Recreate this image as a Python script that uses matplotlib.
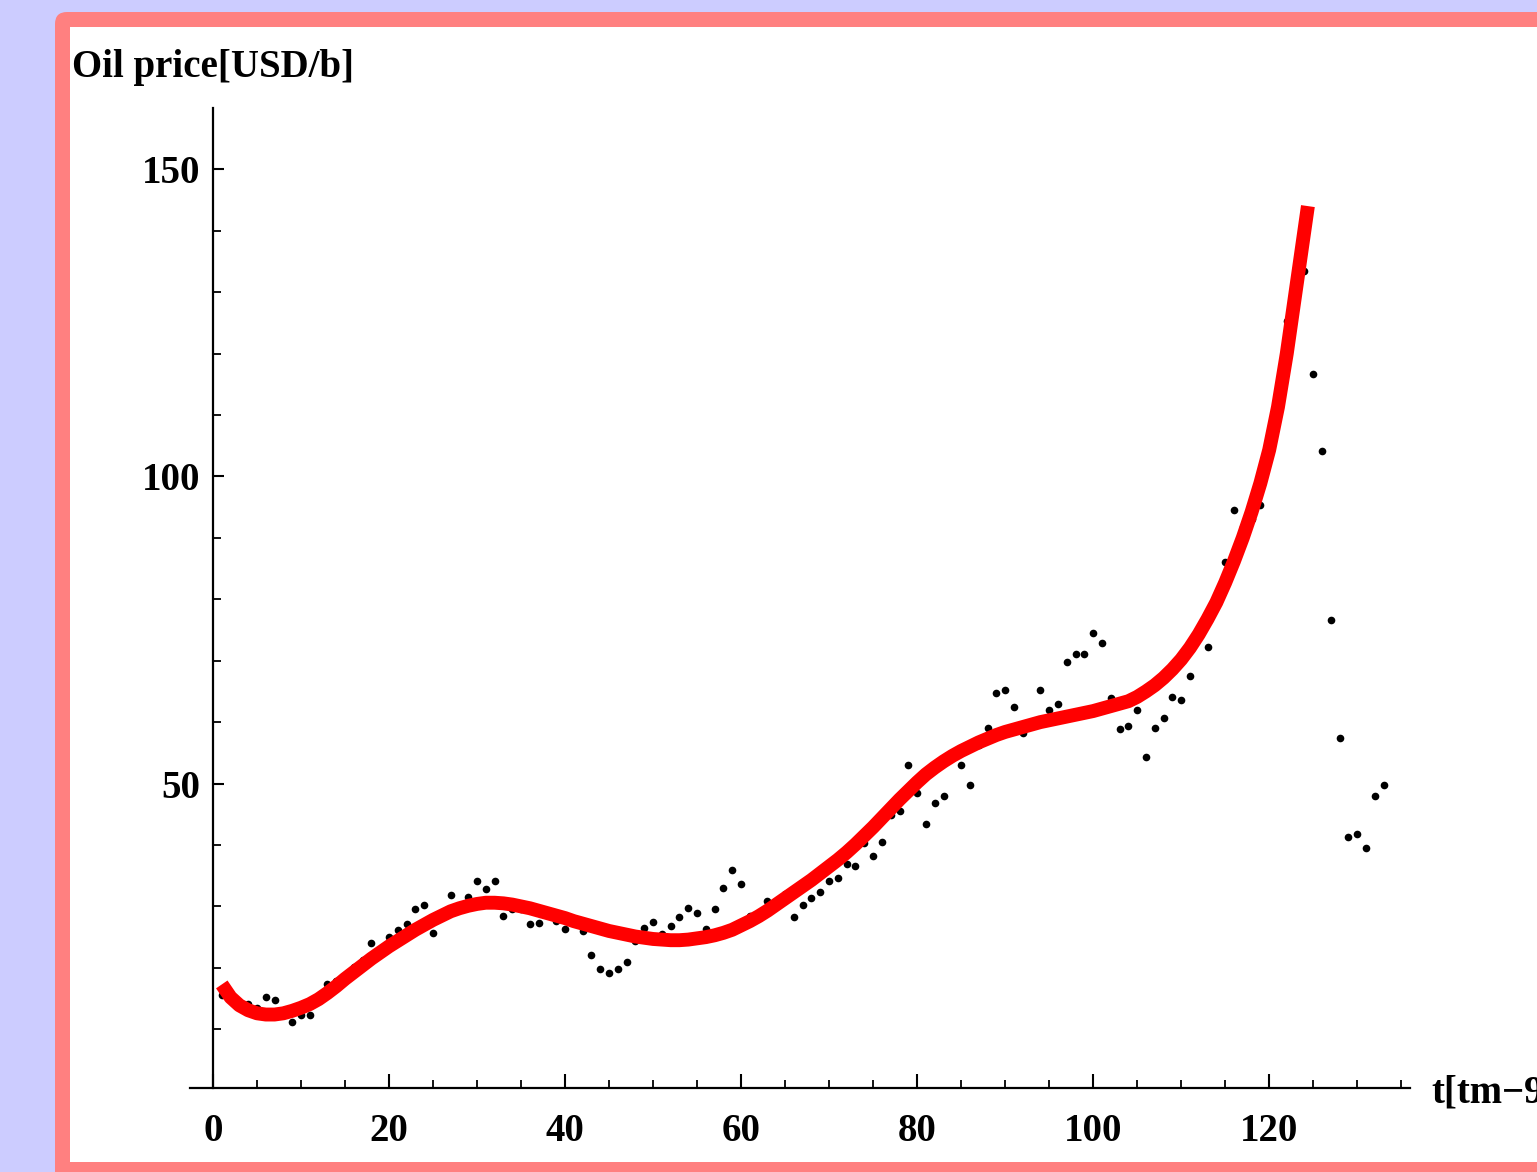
import numpy as np
import matplotlib
matplotlib.use('Agg')
import matplotlib.pyplot as plt
from matplotlib.patches import FancyBboxPatch, Rectangle
from matplotlib.ticker import MultipleLocator

# monthly oil price, t = 1 .. 133
months = np.arange(1, 134)
price = [15.5, 14.9, 13.7, 14.1, 13.4, 15.3, 14.7, 12.9, 11.2,
         12.4, 12.3, 14.7, 17.3, 17.8, 17.9, 20.1, 21.3, 24.1, 22.6, 25.0, 26.1,
         27.2, 29.5, 30.2, 25.7, 28.8, 31.9, 29.7, 31.6, 34.1, 32.9, 34.2, 28.4,
         29.6, 29.6, 27.2, 27.3, 28.6, 27.6, 26.4, 27.4, 26.0, 22.1, 19.8, 19.1,
         19.8, 20.9, 24.4, 26.5, 27.4, 25.5, 26.8, 28.3, 29.7, 29.0, 26.3, 29.6,
         33.0, 35.9, 33.6, 28.5, 28.1, 30.8, 30.8, 32.0, 28.3, 30.2, 31.3, 32.4,
         34.2, 34.7, 36.9, 36.6, 40.3, 38.2, 40.5, 44.9, 45.6, 53.1, 48.5, 43.4,
         46.8, 48.0, 54.3, 53.1, 49.8, 56.3, 59.0, 64.8, 65.2, 62.4, 58.2, 59.4,
         65.2, 62.0, 63.0, 69.8, 71.1, 71.1, 74.5, 72.8, 64.0, 58.9, 59.4, 61.9,
         54.4, 59.0, 60.6, 64.1, 63.6, 67.5, 74.1, 72.3, 79.9, 86.0, 94.6, 91.7,
         93.0, 95.4, 105.5, 112.6, 125.3, 133.9, 133.4, 116.7, 104.1, 76.7, 57.4, 41.3,
         41.8, 39.5, 48.0, 49.7]

# fitted trend at each month (t = 1 .. 124) and its end
curve_t = list(range(1, 125)) + [124.4]
curve_v = [17.3, 15.2, 13.9, 13.1, 12.6, 12.4, 12.4, 12.6, 13.0, 13.5,
           14.1, 14.9, 15.9, 17.0, 18.2, 19.3, 20.4, 21.5, 22.5, 23.5,
           24.4, 25.3, 26.2, 27.0, 27.8, 28.5, 29.2, 29.7, 30.1, 30.4,
           30.6, 30.6, 30.5, 30.3, 30.0, 29.7, 29.3, 28.9, 28.5, 28.1,
           27.6, 27.2, 26.8, 26.4, 26.0, 25.7, 25.4, 25.1, 24.9, 24.7,
           24.6, 24.5, 24.5, 24.6, 24.8, 25.0, 25.3, 25.7, 26.2, 26.9,
           27.6, 28.4, 29.3, 30.3, 31.3, 32.3, 33.3, 34.3, 35.4, 36.5,
           37.6, 38.8, 40.1, 41.5, 42.9, 44.4, 45.9, 47.4, 48.8, 50.2,
           51.5, 52.6, 53.6, 54.5, 55.3, 56.0, 56.7, 57.3, 57.9, 58.4,
           58.8, 59.2, 59.6, 60.0, 60.3, 60.6, 60.9, 61.2, 61.5, 61.8,
           62.2, 62.6, 63.0, 63.4, 64.1, 65.0, 66.0, 67.2, 68.6, 70.2,
           72.1, 74.3, 76.8, 79.5, 82.7, 86.2, 90.0, 94.2, 98.9, 104.3,
           111.3, 120.0, 130.0, 140.0, 144.0]

plt.rcParams['font.family'] = ['Liberation Serif', 'DejaVu Serif']
plt.rcParams['font.weight'] = 'bold'

W, H = 1537, 1172
fig = plt.figure(figsize=(W / 100, H / 100), dpi=100, facecolor='#ccccff')

# salmon frame with white page inside (behind the axes)
frame = FancyBboxPatch((0.55, -1.0), 20, 12.6,
                       boxstyle='round,pad=0,rounding_size=0.12',
                       transform=fig.dpi_scale_trans, fc='#ff8080', ec='none',
                       zorder=-2)
fig.add_artist(frame)
page = Rectangle((0.70, 0.10), 20, 11.35, transform=fig.dpi_scale_trans,
                 fc='white', ec='none', zorder=-1)
fig.add_artist(page)

ax = fig.add_axes([190 / W, 84 / H, 1220 / W, 980 / H])
ax.patch.set_visible(False)

ax.plot(months, price, 'o', color='black', ms=5.5, mew=0, zorder=2)
ax.plot(curve_t, curve_v, color='#ff0000', lw=10, solid_capstyle='butt',
        solid_joinstyle='round', zorder=3)

ax.set_xlim(-2.61, 136.0)
ax.set_ylim(0.44, 159.97)

ax.spines['top'].set_visible(False)
ax.spines['right'].set_visible(False)
ax.spines['left'].set_position(('data', 0))
for s in ('left', 'bottom'):
    ax.spines[s].set_linewidth(1.6)

ax.xaxis.set_major_locator(MultipleLocator(20))
ax.xaxis.set_minor_locator(MultipleLocator(5))
ax.yaxis.set_major_locator(MultipleLocator(50))
ax.yaxis.set_minor_locator(MultipleLocator(10))

ax.tick_params(axis='x', which='major', direction='in', length=10, width=1.5,
               pad=18, labelsize=28)
ax.tick_params(axis='x', which='minor', direction='in', length=6, width=1.3)
ax.tick_params(axis='y', which='major', direction='in', length=8, width=1.5,
               pad=9, labelsize=28)
ax.tick_params(axis='y', which='minor', direction='in', length=5.5, width=1.3)

fig.text(72 / W, 1 - 77 / H, 'Oil price[USD/b]', ha='left', va='baseline',
         fontsize=28)
# axis label runs past the right edge, as in the original figure
fig.text(1431 / W, 1 - 1103 / H, 't[tm\u221298]', ha='left', va='baseline',
         fontsize=28)

fig.savefig('out.png', dpi=100, facecolor=fig.get_facecolor())
